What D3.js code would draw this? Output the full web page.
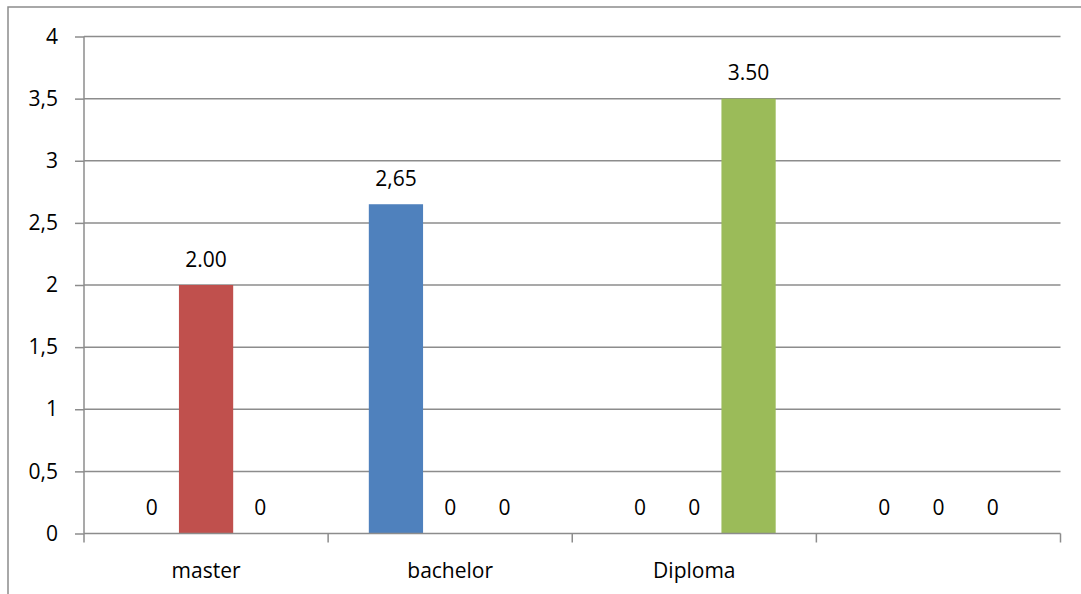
<!DOCTYPE html>
<html>
<head>
<meta charset="utf-8">
<script src="https://cdn.jsdelivr.net/npm/d3@7"></script>
<style>
  html, body { margin: 0; padding: 0; background: #fff; }
  svg { display: block; }
  text { font-family: "Open Sans", "Noto Sans", sans-serif; fill: #000; }
</style>
</head>
<body>
<svg id="chart" width="1081" height="594"></svg>
<script>
// Categories along the x axis (the fourth one has no name)
const categories = ["master", "bachelor", "Diploma", ""];
// Three series, one slot each per category
const seriesNames = ["s1", "s2", "s3"];
const seriesColors = ["#4F81BD", "#C0504D", "#9BBB59"];
const seriesValues = [
  [0, 2.65, 0, 0],
  [2.00, 0, 0, 0],
  [0, 0, 3.50, 0]
];
// Data labels as written on the chart
const seriesLabels = [
  ["0", "2,65", "0", "0"],
  ["2.00", "0", "0", "0"],
  ["0", "0", "3.50", "0"]
];
const yTicks = [0, 0.5, 1, 1.5, 2, 2.5, 3, 3.5, 4];
const yTickLabels = ["0", "0,5", "1", "1,5", "2", "2,5", "3", "3,5", "4"];

const svg = d3.select("#chart");
const plotLeft = 84, plotRight = 1060.5, plotTop = 36.5, plotBottom = 533.5;
const fontSize = "21px";

// outer chart frame
svg.append("rect")
  .attr("x", 8).attr("y", 7)
  .attr("width", 1100).attr("height", 620)
  .attr("fill", "none").attr("stroke", "#8c8c8c").attr("stroke-width", 1.5);

const x0 = d3.scaleBand().domain(d3.range(categories.length)).range([plotLeft, plotRight]).padding(0);
const bw = x0.bandwidth() / 4.5;           // gap width 150%
const y = d3.scaleLinear().domain([0, 4]).range([plotBottom, plotTop]);

// horizontal gridlines
svg.append("g").selectAll("line").data(yTicks.filter(d => d > 0)).join("line")
  .attr("x1", plotLeft).attr("x2", plotRight)
  .attr("y1", d => y(d)).attr("y2", d => y(d))
  .attr("stroke", "#8c8c8c").attr("stroke-width", 1.5);

// y axis
const yAxis = d3.axisLeft(y).tickValues(yTicks)
  .tickFormat((d, i) => yTickLabels[i]).tickSize(9).tickPadding(17);
const gy = svg.append("g").attr("transform", `translate(${plotLeft},0)`).call(yAxis);
gy.select(".domain").attr("stroke", "#8c8c8c").attr("stroke-width", 1.5)
  .attr("d", `M0,${plotTop}V${plotBottom}`);
gy.selectAll(".tick line").attr("stroke", "#8c8c8c").attr("stroke-width", 1.5);
gy.selectAll(".tick text").style("font-size", fontSize).attr("fill", "#000")
  .style("font-family", "'Open Sans', sans-serif");

// bars
seriesValues.forEach((vals, s) => {
  const g = svg.append("g");
  g.selectAll("rect").data(vals).join("rect")
    .attr("x", (d, i) => x0(i) + 0.75 * bw + s * bw)
    .attr("width", bw)
    .attr("y", d => y(d))
    .attr("height", d => y(0) - y(d))
    .attr("fill", seriesColors[s]);
  g.selectAll("text").data(vals).join("text")
    .attr("x", (d, i) => x0(i) + 0.75 * bw + s * bw + bw / 2)
    .attr("y", d => y(d) - 18.5)
    .attr("text-anchor", "middle")
    .style("font-size", fontSize)
    .text((d, i) => seriesLabels[s][i]);
});

// x axis line and category ticks
const gx = svg.append("g");
gx.append("line").attr("x1", plotLeft).attr("x2", plotRight)
  .attr("y1", plotBottom).attr("y2", plotBottom)
  .attr("stroke", "#8c8c8c").attr("stroke-width", 1.5);
gx.selectAll("line.t").data(d3.range(categories.length + 1)).join("line")
  .attr("class", "t")
  .attr("x1", i => plotLeft + i * x0.bandwidth()).attr("x2", i => plotLeft + i * x0.bandwidth())
  .attr("y1", plotBottom).attr("y2", plotBottom + 9)
  .attr("stroke", "#8c8c8c").attr("stroke-width", 1.5);
gx.selectAll("text").data(categories).join("text")
  .attr("x", (d, i) => x0(i) + x0.bandwidth() / 2)
  .attr("y", 578)
  .attr("text-anchor", "middle")
  .style("font-size", fontSize)
  .text(d => d);
</script>
</body>
</html>
